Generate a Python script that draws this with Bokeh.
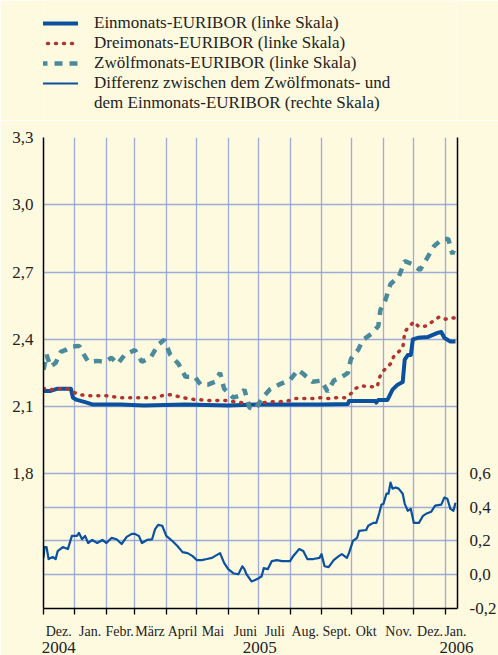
import pandas as pd
from bokeh.plotting import figure
from bokeh.layouts import column
from bokeh.models import (Range1d, LinearAxis, FixedTicker, Legend, LegendItem,
                          CustomJSTickFormatter, Grid)
from bokeh.embed import file_html
from bokeh.resources import INLINE

# ---------------- data ----------------
m1_dates = ["2004-12-01", "2004-12-08", "2004-12-15", "2004-12-28", "2004-12-30", "2005-01-03",
            "2005-01-11", "2005-01-18", "2005-02-15", "2005-03-10", "2005-04-20", "2005-06-01",
            "2005-07-01", "2005-08-01", "2005-09-01", "2005-09-27", "2005-09-28", "2005-10-24",
            "2005-10-25", "2005-10-27", "2005-11-05", "2005-11-10", "2005-11-15", "2005-11-20",
            "2005-11-22", "2005-11-25", "2005-11-28", "2005-11-30", "2005-12-05", "2005-12-15",
            "2005-12-25", "2005-12-28", "2005-12-31", "2006-01-06", "2006-01-11"]
m1_vals = [2.17, 2.17, 2.18, 2.18, 2.14, 2.13,
           2.12, 2.11, 2.11, 2.105, 2.11, 2.105,
           2.11, 2.11, 2.11, 2.112, 2.125, 2.125,
           2.118, 2.13, 2.13, 2.176, 2.198, 2.21,
           2.31, 2.33, 2.33, 2.40, 2.407, 2.411,
           2.43, 2.433, 2.407, 2.39, 2.39]

m3_dates = ["2004-12-01", "2004-12-08", "2004-12-16", "2004-12-25", "2004-12-29", "2005-01-06",
            "2005-01-15", "2005-01-23", "2005-01-31", "2005-02-08", "2005-02-16", "2005-02-24",
            "2005-03-05", "2005-03-13", "2005-03-21", "2005-03-28", "2005-04-05", "2005-04-14",
            "2005-04-22", "2005-04-30", "2005-05-07", "2005-05-14", "2005-05-23", "2005-05-31",
            "2005-06-06", "2005-06-14", "2005-06-21", "2005-06-29", "2005-07-06", "2005-07-14",
            "2005-07-22", "2005-07-31", "2005-08-06", "2005-08-15", "2005-08-23", "2005-08-31",
            "2005-09-08", "2005-09-16", "2005-09-24", "2005-09-30", "2005-10-04", "2005-10-10",
            "2005-10-18", "2005-10-26", "2005-10-28", "2005-10-31", "2005-11-04", "2005-11-08",
            "2005-11-11", "2005-11-15", "2005-11-20", "2005-11-21", "2005-11-22", "2005-11-26",
            "2005-12-01", "2005-12-06", "2005-12-14", "2005-12-20", "2005-12-26", "2006-01-01",
            "2006-01-09", "2006-01-13"]
m3_vals = [2.18, 2.176, 2.18, 2.18, 2.167, 2.153,
           2.149, 2.149, 2.149, 2.144, 2.14, 2.14,
           2.14, 2.14, 2.14, 2.149, 2.153, 2.144,
           2.136, 2.131, 2.13, 2.127, 2.127, 2.127,
           2.122, 2.118, 2.113, 2.109, 2.118, 2.122,
           2.122, 2.127, 2.136, 2.136, 2.136, 2.14,
           2.136, 2.14, 2.14, 2.158, 2.18, 2.193,
           2.189, 2.189, 2.229, 2.256, 2.273, 2.291,
           2.322, 2.34, 2.362, 2.393, 2.433, 2.456,
           2.478, 2.456, 2.46, 2.482, 2.5, 2.49,
           2.496, 2.49]

m12_dates = ["2004-12-01", "2004-12-04", "2004-12-08", "2004-12-13", "2004-12-18", "2004-12-23",
             "2004-12-28", "2005-01-05", "2005-01-10", "2005-01-14", "2005-01-23", "2005-01-31",
             "2005-02-06", "2005-02-12", "2005-02-19", "2005-03-01", "2005-03-08", "2005-03-17",
             "2005-03-24", "2005-03-30", "2005-04-05", "2005-04-13", "2005-04-20", "2005-04-29",
             "2005-05-05", "2005-05-12", "2005-05-19", "2005-05-24", "2005-05-28", "2005-06-06",
             "2005-06-12", "2005-06-17", "2005-06-22", "2005-06-28", "2005-07-04", "2005-07-12",
             "2005-07-21", "2005-08-01", "2005-08-09", "2005-08-15", "2005-08-23", "2005-09-01",
             "2005-09-07", "2005-09-13", "2005-09-21", "2005-09-27", "2005-09-30", "2005-10-07",
             "2005-10-12", "2005-10-20", "2005-10-27", "2005-10-29", "2005-11-03", "2005-11-08",
             "2005-11-16", "2005-11-22", "2005-11-29", "2005-12-07", "2005-12-14", "2005-12-21",
             "2005-12-29", "2006-01-04", "2006-01-08", "2006-01-11"]
m12_vals = [2.264, 2.331, 2.278, 2.296, 2.344, 2.353,
            2.367, 2.371, 2.331, 2.30, 2.304, 2.30,
            2.318, 2.291, 2.331, 2.353, 2.30, 2.322,
            2.376, 2.398, 2.331, 2.291, 2.233, 2.233,
            2.198, 2.198, 2.211, 2.251, 2.18, 2.14,
            2.149, 2.176, 2.096, 2.087, 2.136, 2.176,
            2.198, 2.22, 2.264, 2.242, 2.211, 2.216,
            2.167, 2.216, 2.233, 2.251, 2.313, 2.353,
            2.398, 2.424, 2.46, 2.531, 2.576, 2.647,
            2.678, 2.749, 2.736, 2.709, 2.762, 2.816,
            2.847, 2.847, 2.78, 2.82]

diff_dates = ["2004-12-01", "2004-12-02", "2004-12-04", "2004-12-06", "2004-12-10", "2004-12-13",
              "2004-12-15", "2004-12-20", "2004-12-25", "2004-12-29", "2005-01-03", "2005-01-05",
              "2005-01-08", "2005-01-11", "2005-01-14", "2005-01-18", "2005-01-23", "2005-01-28",
              "2005-02-01", "2005-02-06", "2005-02-11", "2005-02-16", "2005-02-21", "2005-02-26",
              "2005-03-01", "2005-03-05", "2005-03-08", "2005-03-13", "2005-03-18", "2005-03-21",
              "2005-03-24", "2005-03-28", "2005-04-01", "2005-04-07", "2005-04-12", "2005-04-17",
              "2005-04-22", "2005-04-27", "2005-05-01", "2005-05-06", "2005-05-11", "2005-05-16",
              "2005-05-24", "2005-05-28", "2005-06-01", "2005-06-06", "2005-06-11", "2005-06-15",
              "2005-06-17", "2005-06-19", "2005-06-24", "2005-06-27", "2005-07-01", "2005-07-04",
              "2005-07-06", "2005-07-10", "2005-07-14", "2005-07-19", "2005-07-24", "2005-08-01",
              "2005-08-04", "2005-08-10", "2005-08-14", "2005-08-18", "2005-08-24", "2005-08-30",
              "2005-09-01", "2005-09-04", "2005-09-08", "2005-09-13", "2005-09-18", "2005-09-21",
              "2005-09-26", "2005-09-28", "2005-10-02", "2005-10-06", "2005-10-08", "2005-10-15",
              "2005-10-17", "2005-10-22", "2005-10-25", "2005-10-28", "2005-10-30", "2005-11-01",
              "2005-11-04", "2005-11-06", "2005-11-08", "2005-11-10", "2005-11-13", "2005-11-16",
              "2005-11-20", "2005-11-22", "2005-11-25", "2005-11-28", "2005-12-01", "2005-12-06",
              "2005-12-10", "2005-12-13", "2005-12-18", "2005-12-22", "2005-12-28", "2005-12-31",
              "2006-01-03", "2006-01-06", "2006-01-09", "2006-01-11"]
diff_vals = [0.10, 0.164, 0.164, 0.093, 0.105, 0.093,
             0.14, 0.164, 0.152, 0.23, 0.23, 0.248,
             0.21, 0.23, 0.188, 0.206, 0.188, 0.206,
             0.188, 0.218, 0.21, 0.182, 0.224, 0.242,
             0.242, 0.23, 0.188, 0.206, 0.21, 0.27,
             0.295, 0.29, 0.23, 0.20, 0.17, 0.134,
             0.128, 0.11, 0.087, 0.087, 0.093, 0.10,
             0.128, 0.07, 0.033, 0.009, 0.003, 0.05,
             0.033, 0.003, -0.04, -0.033, -0.021, -0.009,
             0.039, 0.033, 0.081, 0.087, 0.081, 0.081,
             0.11, 0.152, 0.14, 0.093, 0.093, 0.10,
             0.122, 0.05, 0.045, 0.087, 0.11, 0.122,
             0.10, 0.128, 0.20, 0.218, 0.26, 0.265,
             0.29, 0.307, 0.307, 0.367, 0.415, 0.42,
             0.48, 0.48, 0.546, 0.51, 0.517, 0.51,
             0.48, 0.42, 0.379, 0.39, 0.307, 0.307,
             0.349, 0.361, 0.373, 0.409, 0.415, 0.457,
             0.45, 0.39, 0.379, 0.427]

month_starts = ["2004-12-01", "2005-01-01", "2005-02-01", "2005-03-01", "2005-04-01", "2005-05-01",
                "2005-06-01", "2005-07-01", "2005-08-01", "2005-09-01", "2005-10-01", "2005-11-01",
                "2005-12-01", "2006-01-01"]
month_label_pos = ["2004-12-16", "2005-01-16", "2005-02-14", "2005-03-16", "2005-04-17", "2005-05-17",
                   "2005-06-18", "2005-07-17", "2005-08-16", "2005-09-16", "2005-10-15", "2005-11-16",
                   "2005-12-17", "2006-01-11"]
month_labels = ["Dez.", "Jan.", "Febr.", "März", "April", "Mai", "Juni", "Juli", "Aug.", "Sept.",
                "Okt", "Nov.", "Dez.", "Jan."]
year_pos = ["2004-12-16", "2005-07-02", "2006-01-12"]
year_labels = ["2004", "2005", "2006"]

left_ticks = [1.8, 2.1, 2.4, 2.7, 3.0, 3.3]
right_ticks = [-0.2, 0.0, 0.2, 0.4, 0.6]
right_grid = [0.0, 0.2, 0.4]

legend_labels = ["Einmonats-EURIBOR (linke Skala)",
                 "Dreimonats-EURIBOR (linke Skala)",
                 "Zwölfmonats-EURIBOR (linke Skala)",
                 "Differenz zwischen dem Zwölfmonats- und",
                 "dem Einmonats-EURIBOR (rechte Skala)"]

# ---------------- styling ----------------
BG = "#FEFAE0"
GRID = "#8E9DD6"
TXT = "#222222"
FONT = "Liberation Serif"
S_1M = dict(line_color="#0A519F", line_width=4, line_join="round")
S_3M = dict(line_color="#B0352E", line_width=3.5, line_dash="1 7", line_cap="round")
S_12M = dict(line_color="#4A8A9B", line_width=4.5, line_dash="8 7")
S_DIFF = dict(line_color="#0A519F", line_width=2.2, line_join="round")


def ms(d):
    return pd.Timestamp(d).value / 1e6


def to_dt(lst):
    return pd.to_datetime(lst)


LOOKUP = """
let best = 0, bd = Infinity;
for (let i = 0; i < pos.length; i++) { const d = Math.abs(pos[i] - tick); if (d < bd) { bd = d; best = i; } }
return labels[best];
"""

# ---------------- legend strip (separate figure on top) ----------------
# The series are drawn here too, but far outside this strip's ranges, so only
# their legend samples are visible.
LEG_H = 120
lf = figure(width=498, height=LEG_H, x_range=Range1d(0, 1), y_range=Range1d(0, 1),
            x_axis_location=None, y_axis_location=None,
            output_backend="svg", toolbar_location=None,
            background_fill_color=BG, border_fill_color=BG,
            min_border_left=0, min_border_right=0, min_border_top=0, min_border_bottom=0)
lf.outline_line_color = None
lf.grid.visible = False
l1 = lf.line(to_dt(m1_dates), m1_vals, **S_1M)
l3 = lf.line(to_dt(m3_dates), m3_vals, **S_3M)
l12 = lf.line(to_dt(m12_dates), m12_vals, **S_12M)
ld = lf.line(to_dt(diff_dates), diff_vals, **S_DIFF)
l0 = lf.line(to_dt(diff_dates), diff_vals, line_alpha=0)
legend = Legend(items=[LegendItem(label=legend_labels[0], renderers=[l1]),
                       LegendItem(label=legend_labels[1], renderers=[l3]),
                       LegendItem(label=legend_labels[2], renderers=[l12]),
                       LegendItem(label=legend_labels[3], renderers=[ld]),
                       LegendItem(label=legend_labels[4], renderers=[l0])],
                location=(-4, 7), orientation="vertical",
                glyph_width=39, glyph_height=20, label_height=20, label_standoff=16,
                spacing=0, padding=0, margin=0,
                border_line_alpha=0, background_fill_alpha=0,
                label_text_font=FONT, label_text_font_size="17px", label_text_color=TXT)
lf.add_layout(legend, "center")

# ---------------- main chart ----------------
p = figure(x_axis_type="datetime", frame_width=414, frame_height=471,
           x_range=Range1d(ms("2004-12-01"), ms("2006-01-13")),
           y_range=Range1d(1.2, 3.3),
           output_backend="svg", toolbar_location=None,
           background_fill_color=BG, border_fill_color=BG,
           min_border_left=43, min_border_right=0, min_border_top=137 - LEG_H, min_border_bottom=0)
p.outline_line_color = None
p.extra_y_ranges = {"right": Range1d(-0.2, 2.59)}

# grids
p.xgrid.ticker = FixedTicker(ticks=[ms(d) for d in month_starts])
p.ygrid.ticker = FixedTicker(ticks=left_ticks)
for g in (p.xgrid[0], p.ygrid[0]):
    g.grid_line_color = GRID
    g.grid_line_width = 1.3
    g.grid_line_alpha = 0.85
rg = Grid(dimension=1, ticker=FixedTicker(ticks=right_grid), y_range_name="right",
          grid_line_color=GRID, grid_line_width=1.3, grid_line_alpha=0.85)
p.add_layout(rg)

# left axis
ya = p.yaxis[0]
ya.ticker = FixedTicker(ticks=left_ticks)
ya.formatter = CustomJSTickFormatter(code="return tick.toFixed(1).replace('.', ',');")
ya.axis_line_color = "black"
ya.axis_line_width = 1.5
ya.major_tick_line_color = None
ya.minor_tick_line_color = None
ya.major_tick_out = 0
ya.major_label_standoff = 10
ya.major_label_text_font = FONT
ya.major_label_text_font_size = "17px"
ya.major_label_text_color = TXT

# right axis
ra = LinearAxis(y_range_name="right", ticker=FixedTicker(ticks=right_ticks),
                formatter=CustomJSTickFormatter(code="return tick.toFixed(1).replace('.', ',');"))
ra.axis_line_color = "black"
ra.axis_line_width = 1.5
ra.major_tick_line_color = None
ra.minor_tick_line_color = None
ra.major_tick_out = 0
ra.major_label_standoff = 12
ra.major_label_text_font = FONT
ra.major_label_text_font_size = "17px"
ra.major_label_text_color = TXT
p.add_layout(ra, "right")

# bottom axis: month labels (major) and month boundaries (minor ticks)
xa = p.xaxis[0]
xa.ticker = FixedTicker(ticks=[ms(d) for d in month_label_pos],
                        minor_ticks=[ms(d) for d in month_starts])
xa.formatter = CustomJSTickFormatter(
    args=dict(pos=[ms(d) for d in month_label_pos], labels=month_labels), code=LOOKUP)
xa.axis_line_color = "black"
xa.axis_line_width = 1.5
xa.major_tick_line_color = None
xa.major_tick_out = 0
xa.major_tick_in = 0
xa.minor_tick_line_color = "black"
xa.minor_tick_line_width = 1.3
xa.minor_tick_out = 6
xa.minor_tick_in = 0
xa.major_label_standoff = 9
xa.major_label_text_font = FONT
xa.major_label_text_font_size = "14px"
xa.major_label_text_color = TXT

# year axis
yr = LinearAxis(ticker=FixedTicker(ticks=[ms(d) for d in year_pos]),
                formatter=CustomJSTickFormatter(
                    args=dict(pos=[ms(d) for d in year_pos], labels=year_labels), code=LOOKUP))
yr.axis_line_color = None
yr.major_tick_line_color = None
yr.minor_tick_line_color = None
yr.major_tick_out = 0
yr.major_tick_in = 0
yr.major_label_standoff = 0
yr.major_label_text_font = FONT
yr.major_label_text_font_size = "17px"
yr.major_label_text_color = TXT
p.add_layout(yr, "below")

# ---------------- series ----------------
p.line(to_dt(m1_dates), m1_vals, **S_1M)
p.line(to_dt(m3_dates), m3_vals, **S_3M)
p.line(to_dt(m12_dates), m12_vals, **S_12M)
p.line(to_dt(diff_dates), diff_vals, y_range_name="right", **S_DIFF)

page = column(lf, p, spacing=0)
open("out.html", "w").write(file_html(page, INLINE))
